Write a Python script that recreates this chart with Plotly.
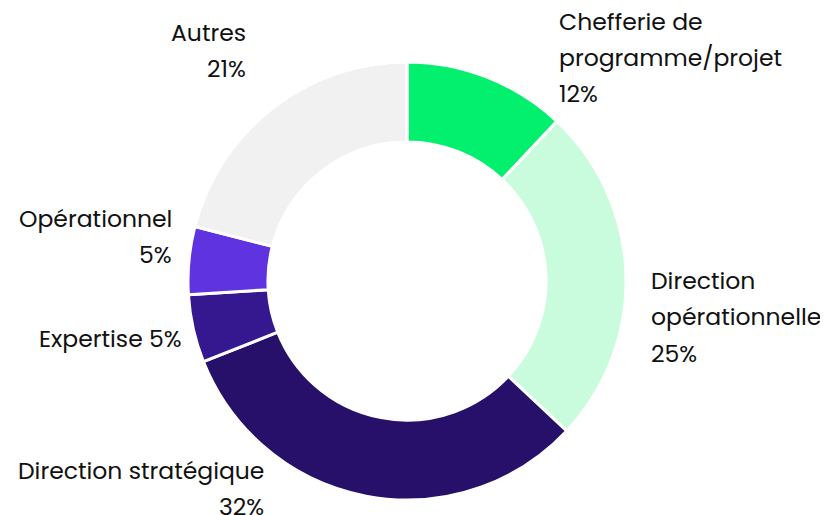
import plotly.graph_objects as go

categories = ["Chefferie de programme/projet", "Direction opérationnelle", "Direction stratégique",
              "Expertise", "Opérationnel", "Autres"]
values = [12, 25, 32, 5, 5, 21]
colors = ["#03F06E", "#C9FCDD", "#27106A", "#35188F", "#5F34E0", "#F1F1F1"]

# label text lines (as displayed) and their placement
label_lines = [
    ["Chefferie de", "programme/projet", "12%"],
    ["Direction", "opérationnelle", "25%"],
    ["Direction stratégique", "32%"],
    ["Expertise 5%"],
    ["Opérationnel", "5%"],
    ["Autres", "21%"],
]
# (x pixel anchor, first line centre y pixel, anchor side) in page pixels
label_pos = [
    (557, 21, "left"),
    (649, 280, "left"),
    (266, 470, "right"),
    (184, 338, "right"),
    (174, 218, "right"),
    (248, 32, "right"),
]
LINE_STEP = 36.5
OFF = 8  # default page body margin
W, H = 820, 507
FONT = "Poppins, 'Open Sans', sans-serif"

fig = go.Figure(go.Pie(
    labels=categories, values=values, sort=False, direction="clockwise", rotation=0,
    hole=0.635, marker=dict(colors=colors, line=dict(color="white", width=3)),
    textinfo="none", hoverinfo="label+percent", showlegend=False,
    domain=dict(x=[(188 - OFF) / W, (626 - OFF) / W], y=[1 - (500 - OFF) / H, 1 - (62 - OFF) / H]),
))

annotations = []
for lines, (px, py, side) in zip(label_lines, label_pos):
    for i, line in enumerate(lines):
        annotations.append(dict(
            text=line, x=(px - OFF) / W, y=1 - (py - OFF + i * LINE_STEP) / H,
            xref="paper", yref="paper",
            xanchor=side, yanchor="middle", showarrow=False,
            font=dict(family=FONT, size=23.5, color="#111111"),
        ))

fig.update_layout(
    width=W, height=H, margin=dict(l=0, r=0, t=0, b=0),
    paper_bgcolor="white", plot_bgcolor="white", annotations=annotations,
)
fig.write_html("out.html")
